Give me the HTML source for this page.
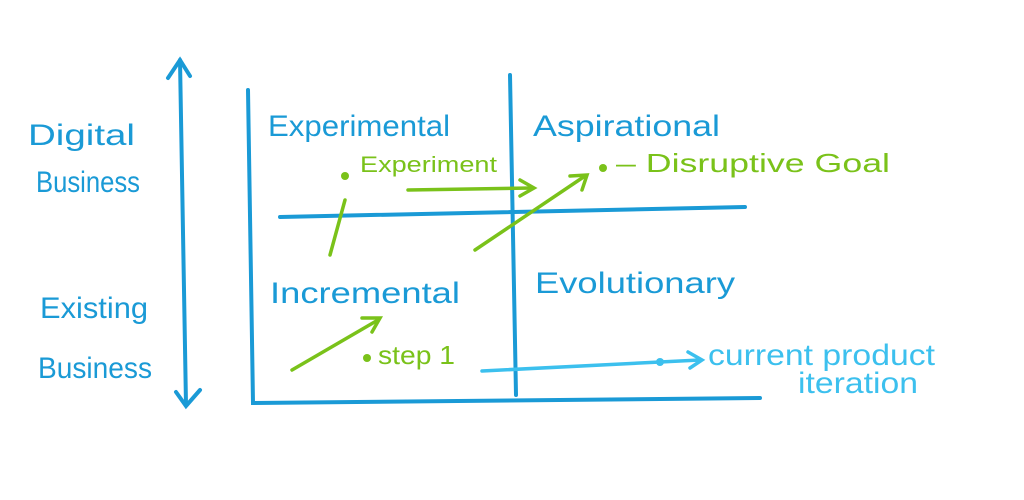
<!DOCTYPE html>
<html><head><meta charset="utf-8"><style>
html,body{margin:0;padding:0;background:#fff;width:1024px;height:500px;overflow:hidden}
svg text{font-family:"Liberation Sans",sans-serif}
</style></head><body>
<svg width="1024" height="500" viewBox="0 0 1024 500" xmlns="http://www.w3.org/2000/svg">
<g stroke="#1a9ad6" stroke-width="4" fill="none" stroke-linecap="round">
 <path d="M180 60 L186 405"/>
 <path d="M168 78 L180 60 L190 76"/>
 <path d="M176 392 L186 406 L200 390"/>
 <path d="M248 90 L253 403 L760 398"/>
 <path d="M510 75 L516 395"/>
 <path d="M280 217 L745 207"/>
</g>
<g fill="#1a9ad6" font-size="30" lengthAdjust="spacingAndGlyphs">
 <text x="28" y="145" textLength="107" lengthAdjust="spacingAndGlyphs">Digital</text>
 <text x="36" y="192" textLength="104" lengthAdjust="spacingAndGlyphs">Business</text>
 <text x="40" y="318" textLength="108" lengthAdjust="spacingAndGlyphs">Existing</text>
 <text x="38" y="378" textLength="114" lengthAdjust="spacingAndGlyphs">Business</text>
 <text x="268" y="136" textLength="182" lengthAdjust="spacingAndGlyphs">Experimental</text>
 <text x="533" y="136" textLength="187" lengthAdjust="spacingAndGlyphs">Aspirational</text>
 <text x="270" y="303" textLength="190" lengthAdjust="spacingAndGlyphs">Incremental</text>
 <text x="535" y="293" textLength="200" lengthAdjust="spacingAndGlyphs">Evolutionary</text>
</g>
<g stroke="#7ac21a" stroke-width="3.5" fill="none" stroke-linecap="round">
 <path d="M408 190 L532 188"/>
 <path d="M520 180 L534 188 L520 196"/>
 <path d="M330 255 L345 200"/>
 <path d="M475 250 L585 176"/>
 <path d="M570 176 L587 175 L582 190"/>
 <path d="M292 370 L378 320"/>
 <path d="M362 318 L380 318 L372 332"/>
</g>
<g fill="#7ac21a">
 <circle cx="345" cy="176" r="4"/>
 <circle cx="603" cy="168" r="4"/>
 <circle cx="367" cy="358" r="4"/>
 <text x="360" y="172" font-size="22" textLength="137" lengthAdjust="spacingAndGlyphs">Experiment</text>
 <text x="616" y="172" font-size="26" textLength="274" lengthAdjust="spacingAndGlyphs">– Disruptive Goal</text>
 <text x="378" y="364" font-size="26" textLength="77" lengthAdjust="spacingAndGlyphs">step 1</text>
</g>
<g stroke="#3cc0ee" stroke-width="3.5" fill="none" stroke-linecap="round">
 <path d="M482 371 L700 360"/>
 <path d="M688 352 L702 360 L690 368"/>
</g>
<circle cx="660" cy="362" r="4" fill="#3cc0ee"/>
<g fill="#3cc0ee" font-size="30">
 <text x="708" y="365" textLength="227" lengthAdjust="spacingAndGlyphs">current product</text>
 <text x="798" y="393" textLength="120" lengthAdjust="spacingAndGlyphs">iteration</text>
</g>
</svg>
</body></html>
